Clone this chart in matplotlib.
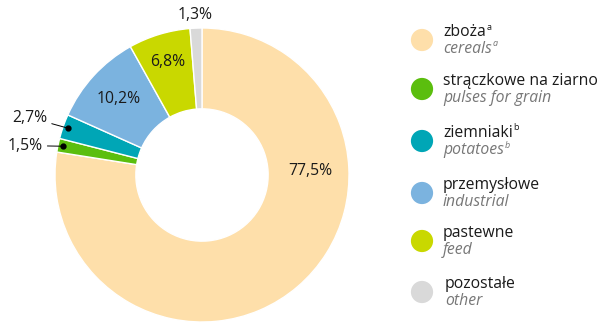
import numpy as np
import matplotlib.pyplot as plt

plt.rcParams['font.family'] = ['Open Sans', 'DejaVu Sans']

# crop structure, share of sown area (%)
labels_pl = ['zboża', 'strączkowe na ziarno', 'ziemniaki', 'przemysłowe', 'pastewne', 'pozostałe']
labels_en = ['cereals', 'pulses for grain', 'potatoes', 'industrial', 'feed', 'other']
notes = ['a', '', 'b', '', '', '']
shares = [77.5, 1.5, 2.7, 10.2, 6.8, 1.3]
value_text = ['77,5%', '1,5%', '2,7%', '10,2%', '6,8%', '1,3%']
colors = ['#FEDFAA', '#5BBE0E', '#00A6B6', '#7BB3DF', '#C9D800', '#D9D9D9']

W, H = 606, 323
fig = plt.figure(figsize=(W / 100, H / 100), dpi=100)

# donut
cx, cy, R = 202, 175, 147
ax = fig.add_axes([(cx - R) / W, (H - cy - R) / H, 2 * R / W, 2 * R / H])
ax.pie(shares, colors=colors, startangle=90, counterclock=False, radius=1,
       wedgeprops=dict(width=0.55, edgecolor='white', linewidth=1.0))
ax.set_xlim(-1, 1)
ax.set_ylim(-1, 1)
ax.set_aspect('equal')
ax.axis('off')

cum = np.cumsum([0] + shares)
mid = 90 - (cum[:-1] + np.array(shares) / 2) * 3.6

def polar(r, ang):
    a = np.deg2rad(ang)
    return r * np.cos(a), r * np.sin(a)

fs = 11.3
dark = '#1a1a1a'
# labels inside the ring
ax.text(*polar(0.74, 2), value_text[0], ha='center', va='center', fontsize=fs, color=dark)
ax.text(*polar(0.77, mid[3]), value_text[3], ha='center', va='center', fontsize=fs, color=dark)
ax.text(*polar(0.80, mid[4]), value_text[4], ha='center', va='center', fontsize=fs, color=dark)
ax.text(*polar(1.09, mid[5]), value_text[5], ha='center', va='center', fontsize=fs, color=dark)

# small slices with leader lines
for i, txy in [(2, (-1.05, 0.39)), (1, (-1.08, 0.20))]:
    px, py = polar(0.965, mid[i])
    ax.plot(px, py, 'o', color='black', markersize=3.5)
    ax.annotate(value_text[i], xy=(px, py), xytext=txy, ha='right', va='center',
                fontsize=fs, color=dark,
                arrowprops=dict(arrowstyle='-', color='black', lw=0.7,
                                shrinkA=1, shrinkB=0))

# legend, drawn in pixel coordinates
lg = fig.add_axes([0, 0, 1, 1])
lg.set_xlim(0, W)
lg.set_ylim(H, 0)
lg.axis('off')
lg.patch.set_alpha(0)

leg_y = [40, 89, 141, 193, 241, 292]
lg.scatter([422] * len(leg_y), leg_y, s=16 ** 2, c=colors, edgecolors='none')

fig.canvas.draw()
renderer = fig.canvas.get_renderer()
for i, y in enumerate(leg_y):
    tx = 443 if i < 5 else 445
    t1 = lg.text(tx, y - 8, labels_pl[i], fontsize=fs, color=dark, va='center', ha='left')
    t2 = lg.text(tx, y + 9, labels_en[i], fontsize=fs, color='#777777', style='italic',
                 va='center', ha='left')
    if notes[i]:
        for t, col, st in [(t1, dark, 'normal'), (t2, '#777777', 'italic')]:
            bb = t.get_window_extent(renderer)
            x_end = bb.x1 / fig.dpi * 100 * W / (fig.get_figwidth() * 100)
            lg.text(x_end + 0.5, t.get_position()[1] - 5, notes[i], fontsize=6.5,
                    color=col, style=st, va='center', ha='left')

fig.savefig('out.png', dpi=100)
